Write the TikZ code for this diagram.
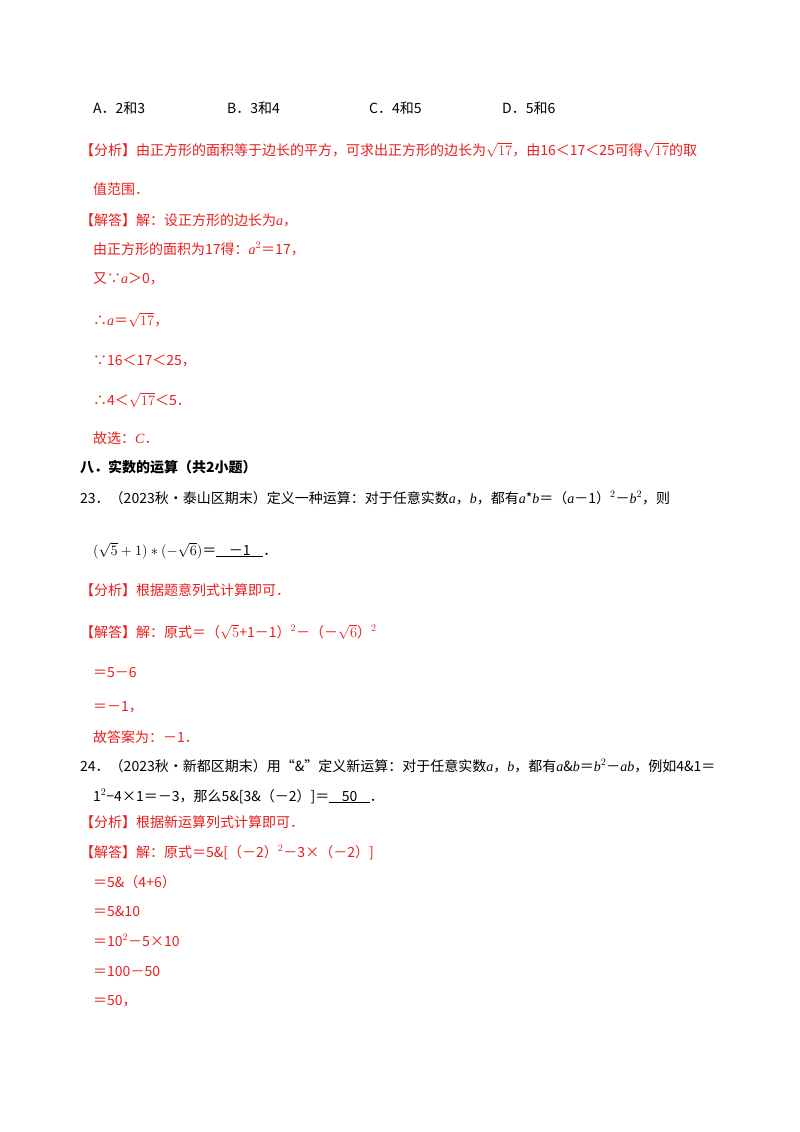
\documentclass[tikz,border=0pt]{standalone}
\usepackage{fontspec}
\setmainfont{Noto Sans CJK SC}
\newfontfamily\lat{Liberation Serif}
\definecolor{ans}{RGB}{232,30,30}
\newcommand{\vv}[1]{{\lat\itshape #1}}
\begin{document}
\begin{tikzpicture}[x=1pt,y=-1pt,
  t/.style={anchor=base west,inner sep=0pt,font=\fontsize{14}{17}\selectfont},
  r/.style={t,text=ans}]
\useasboundingbox[fill=white] (0,0) rectangle (800,1132);
\node[t] (a1) at (93,113) {A．2和3};
\node[t] (a2) at (227,113) {B．3和4};
\node[t] (a3) at (369,113) {C．4和5};
\node[t] (a4) at (502,113) {D．5和6};
\node[r] (l1) at (80,155) {【分析】由正方形的面积等于边长的平方，可求出正方形的边长为$\sqrt{17}$，由16＜17＜25可得$\sqrt{17}$的取};
\node[r] (l2) at (93,194) {值范围．};
\node[r] (l3) at (80,225) {【解答】解：设正方形的边长为\vv{a}，};
\node[r] (l4) at (93,254) {由正方形的面积为17得：\vv{a}$^2$＝17，};
\node[r] (l5) at (93,283) {又∵\vv{a}＞0，};
\node[r] (l6) at (93,325) {∴\vv{a}＝$\sqrt{17}$，};
\node[r] (l7) at (93,365) {∵16＜17＜25，};
\node[r] (l8) at (93,405) {∴4＜$\sqrt{17}$＜5．};
\node[r] (l9) at (93,443) {故选：\vv{C}．};
\node[t,font=\fontsize{14}{17}\selectfont\bfseries] (h8) at (80,472) {八．实数的运算（共2小题）};
\node[t] (q23) at (80,503) {23．（2023秋•泰山区期末）定义一种运算：对于任意实数\vv{a}，\vv{b}，都有\vv{a}*\vv{b}＝（\vv{a}－1）$^2$－\vv{b}$^2$，则};
\node[t] (q23b) at (93,555) {$(\sqrt{5}+1)*(-\sqrt{6})$＝\underline{\ \ \ \ －1\ \ \ \ }．};
\node[r] (m1) at (80,595) {【分析】根据题意列式计算即可．};
\node[r] (m2) at (80,637) {【解答】解：原式＝（$\sqrt{5}$+1－1）$^2$－（－$\sqrt{6}$）$^2$};
\node[r] (m3) at (93,677) {＝5－6};
\node[r] (m4) at (93,711) {＝－1，};
\node[r] (m5) at (93,742) {故答案为：－1．};
\node[t] (q24) at (80,771) {24．（2023秋•新都区期末）用“\&”定义新运算：对于任意实数\vv{a}，\vv{b}，都有\vv{a}\&\vv{b}＝\vv{b}$^2$－\vv{ab}，例如4\&1＝};
\node[t] (q24b) at (93,801) {1$^2$−4×1＝－3，那么5\&[3\&（－2）]＝\underline{\ \ \ \ 50\ \ \ \ }．};
\node[r] (n1) at (80,827) {【分析】根据新运算列式计算即可．};
\node[r] (n2) at (80,857) {【解答】解：原式＝5\&[（－2）$^2$－3×（－2）]};
\node[r] (n3) at (93,887) {＝5\&（4+6）};
\node[r] (n4) at (93,916) {＝5\&10};
\node[r] (n5) at (93,946) {＝10$^2$－5×10};
\node[r] (n6) at (93,976) {＝100－50};
\node[r] (n7) at (93,1005) {＝50，};
\end{tikzpicture}
\end{document}
